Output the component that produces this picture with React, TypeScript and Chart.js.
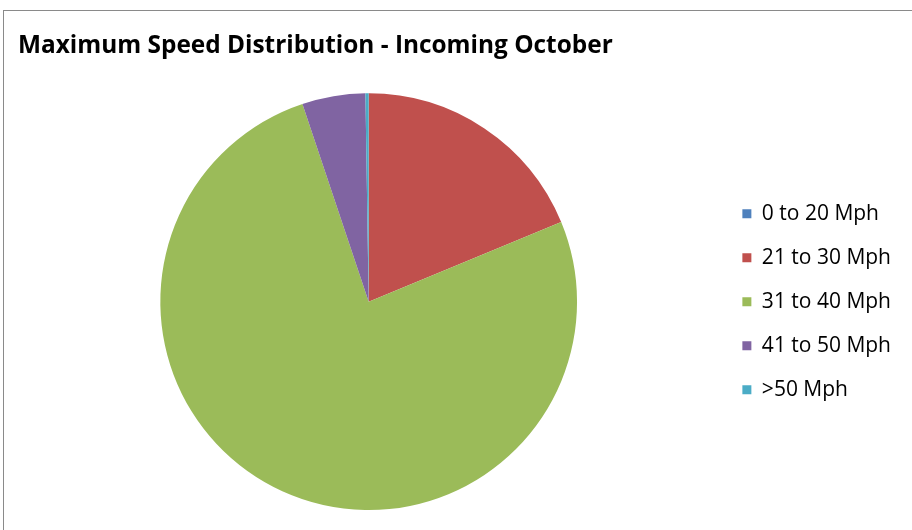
import React, { useEffect, useRef } from "react";
import { Chart, registerables } from "chart.js";

Chart.register(...registerables);

const TITLE = "Maximum Speed Distribution - Incoming October";
const categories = ["0 to 20 Mph", "21 to 30 Mph", "31 to 40 Mph", "41 to 50 Mph", ">50 Mph"];
const shares = [0, 18.75, 76.1, 4.9, 0.25];
const colors = ["#4F81BD", "#C0504D", "#9BBB59", "#8064A2", "#4BACC6"];

export default function App() {
  const ref = useRef<HTMLCanvasElement | null>(null);
  useEffect(() => {
    if (!ref.current) return;
    const chart = new Chart(ref.current, {
      type: "pie",
      data: {
        labels: categories,
        datasets: [
          {
            data: shares,
            backgroundColor: colors,
            borderWidth: 0,
          },
        ],
      },
      options: {
        animation: false,
        responsive: false,
        maintainAspectRatio: false,
        layout: { padding: { left: 18, right: 39, top: 0, bottom: 21 } },
        plugins: {
          tooltip: { enabled: false },
          title: {
            display: true,
            text: TITLE,
            align: "start",
            color: "#000",
            font: { family: "'Open Sans', sans-serif", size: 24.4, weight: "bold" },
            padding: { top: 30, bottom: 33 },
          },
          legend: {
            position: "right",
            align: "center",
            fullSize: false,
            labels: {
              boxWidth: 9,
              boxHeight: 9,
              padding: 23,
              color: "#000",
              font: { family: "'Open Sans', sans-serif", size: 21 },
            },
          },
        },
      },
    });
    return () => chart.destroy();
  }, []);
  return (
    <div style={{ position: "fixed", left: 0, top: 0, width: 912, height: 530, overflow: "hidden", background: "#fff" }}>
      <div style={{ position: "absolute", left: 3, top: 10, width: 960, height: 600, border: "1px solid #8a8a8a" }} />
      <canvas ref={ref} width={940} height={530} style={{ position: "absolute", left: 0, top: 1 }} />
    </div>
  );
}
